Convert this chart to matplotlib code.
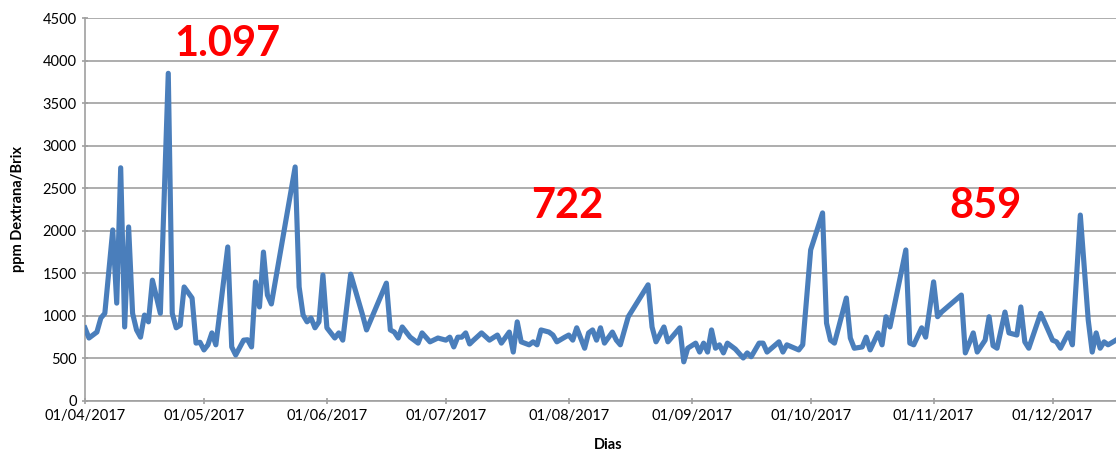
import matplotlib
matplotlib.use("Agg")
import matplotlib.pyplot as plt
import matplotlib.dates as mdates
import numpy as np
import pandas as pd

# ---- data ----
start_date = "2017-04-01"
day_offsets = [0, 1, 3, 4, 5, 7, 8, 9, 10, 11, 12, 13, 14, 15, 16, 17, 19, 21, 22, 23,
               24, 25, 27, 28, 29, 30, 31, 32, 33, 36, 37, 38, 40, 41, 42, 43, 44, 45, 46, 47,
               53, 54, 55, 56, 57, 58, 59, 60, 61, 63, 64, 65, 67, 70, 71, 76, 77, 78, 79, 80,
               82, 84, 85, 87, 89, 91, 92, 93, 94, 95, 96, 97, 98, 100, 102, 104, 105, 107, 108, 109,
               110, 112, 113, 114, 115, 117, 118, 119, 121, 122, 123, 124, 126, 127, 128, 129, 130, 131, 133, 134,
               135, 137, 142, 143, 144, 146, 147, 150, 151, 152, 154, 155, 156, 157, 158, 159, 160, 161, 162, 164,
               166, 167, 168, 170, 171, 172, 175, 176, 177, 180, 181, 183, 186, 187, 188, 189, 192, 193, 194, 196,
               197, 198, 200, 201, 202, 203, 207, 208, 209, 211, 212, 214, 215, 216, 221, 222, 223, 224, 225, 227,
               228, 229, 230, 232, 233, 235, 236, 237, 238, 241, 244, 245, 246, 248, 249, 251, 253, 254, 255, 256,
               257, 258, 260]
dextrana = [858, 740, 810, 975, 1030, 2010, 1150, 2740, 870, 2045, 1030, 835, 750, 1010, 930, 1420, 1030, 3850, 1030, 860,
            890, 1340, 1210, 680, 690, 600, 660, 800, 660, 1810, 635, 540, 715, 720, 635, 1400, 1105, 1750, 1245, 1140,
            2750, 1340, 1010, 930, 975, 860, 930, 1480, 860, 740, 800, 715, 1490, 1010, 835, 1385, 835, 810, 740, 870,
            750, 680, 800, 695, 740, 715, 750, 635, 750, 750, 800, 670, 715, 800, 715, 775, 680, 810, 575, 930,
            695, 660, 695, 660, 835, 810, 775, 695, 750, 775, 715, 860, 620, 800, 835, 715, 860, 680, 810, 715,
            660, 990, 1365, 870, 695, 870, 695, 860, 460, 620, 680, 575, 680, 575, 835, 620, 660, 565, 680, 610,
            505, 565, 520, 680, 680, 575, 695, 575, 660, 600, 660, 1775, 2210, 915, 715, 680, 1210, 740, 620, 635,
            750, 600, 800, 660, 990, 870, 1775, 680, 660, 860, 750, 1400, 990, 1045, 1245, 565, 680, 800, 575, 715,
            990, 650, 620, 1045, 800, 775, 1105, 695, 620, 1030, 715, 695, 620, 800, 660, 2185, 950, 575, 800, 620,
            695, 660, 715]
annotations = [("1.097", 35.8, 4200), ("722", 121.5, 2290), ("859", 227, 2290)]
xtick_months = ["2017-04-01", "2017-05-01", "2017-06-01", "2017-07-01", "2017-08-01",
                "2017-09-01", "2017-10-01", "2017-11-01", "2017-12-01"]

plt.rcParams['font.family'] = ['Lato', 'DejaVu Sans']

dates = pd.Timestamp(start_date) + pd.to_timedelta(day_offsets, unit="D")
t0 = pd.Timestamp(start_date)

fig = plt.figure(figsize=(11.16, 4.55), dpi=100)
ax = fig.add_axes([85/1116, 1 - 401/455, 1 - 85/1116, (401 - 18)/455])

ax.plot(dates, dextrana, color="#4a7ebb", lw=3.7, solid_joinstyle="round", zorder=3)

ax.set_ylim(0, 4500)
ax.set_yticks(np.arange(0, 4501, 500))
ax.set_xlim(t0, t0 + pd.Timedelta(days=260))
ax.set_xticks(pd.to_datetime(xtick_months))
ax.xaxis.set_major_formatter(mdates.DateFormatter("%d/%m/%Y"))

ax.grid(axis="y", color="#a0a0a0", lw=1.2)
ax.set_axisbelow(True)
for s in ["top", "right"]:
    ax.spines[s].set_visible(False)
for s in ["left", "bottom"]:
    ax.spines[s].set_color("#a0a0a0")
    ax.spines[s].set_linewidth(1.2)
ax.tick_params(axis="both", colors="#a0a0a0", labelcolor="black", labelsize=10.5,
               length=5, width=1.2, direction="inout")

ax.set_ylabel("ppm Dextrana/Brix", fontsize=10.5, fontweight="bold")
ax.yaxis.set_label_coords(-(85 - 25) / (1116 - 85), 0.5)
ax.set_xlabel("Dias", fontsize=10.5, fontweight="bold")
ax.xaxis.set_label_coords((608 - 85) / (1116 - 85), -0.097)

for txt, d, v in annotations:
    ax.text(t0 + pd.Timedelta(days=d), v, txt, color="red", fontsize=30,
            fontweight="bold", ha="center", va="center")

fig.savefig("out.png", dpi=100)
